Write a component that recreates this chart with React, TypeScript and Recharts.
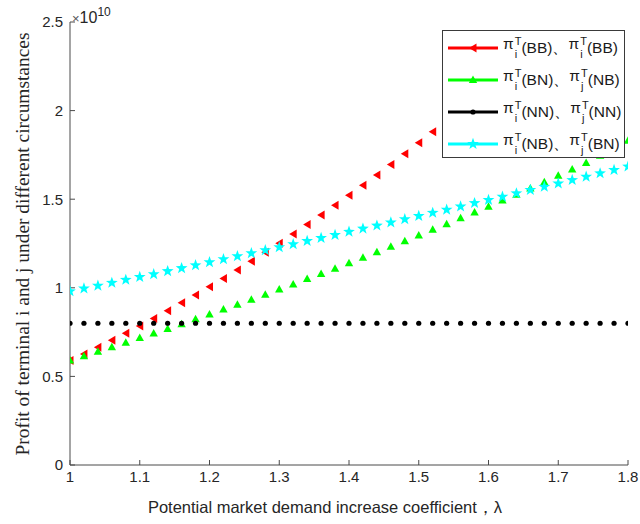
import { ScatterChart, Scatter, XAxis, YAxis } from 'recharts';

// lambda values, step 0.02
const LAMBDA = [
  1.0, 1.02, 1.04, 1.06, 1.08, 1.1, 1.12, 1.14, 1.16, 1.18,
  1.2, 1.22, 1.24, 1.26, 1.28, 1.3, 1.32, 1.34, 1.36, 1.38,
  1.4, 1.42, 1.44, 1.46, 1.48, 1.5, 1.52, 1.54, 1.56, 1.58,
  1.6, 1.62, 1.64, 1.66, 1.68, 1.7, 1.72, 1.74, 1.76, 1.78, 1.8,
];

// profits, in units of 1e10 (red series only while it stays under the legend)
const PROFIT_BB = [
  0.59, 0.627, 0.665, 0.704, 0.744, 0.785, 0.827, 0.87, 0.915, 0.96,
  1.006, 1.053, 1.101, 1.15, 1.2, 1.251, 1.303, 1.357, 1.411, 1.466,
  1.522, 1.579, 1.637, 1.696, 1.757, 1.818, 1.88, 1.943, 2.007, 2.073,
  2.139, 2.206, 2.274, 2.343, 2.414,
];
const PROFIT_BN_NB = [
  0.59, 0.614, 0.639, 0.665, 0.69, 0.716, 0.742, 0.768, 0.795, 0.822,
  0.849, 0.877, 0.905, 0.933, 0.961, 0.99, 1.019, 1.049, 1.078, 1.108,
  1.139, 1.169, 1.2, 1.231, 1.263, 1.295, 1.327, 1.359, 1.392, 1.425,
  1.458, 1.492, 1.525, 1.56, 1.595, 1.632, 1.668, 1.704, 1.745, 1.787, 1.83,
];
const PROFIT_NN = [
  0.8, 0.8, 0.8, 0.8, 0.8, 0.8, 0.8, 0.8, 0.8, 0.8,
  0.8, 0.8, 0.8, 0.8, 0.8, 0.8, 0.8, 0.8, 0.8, 0.8,
  0.8, 0.8, 0.8, 0.8, 0.8, 0.8, 0.8, 0.8, 0.8, 0.8,
  0.8, 0.8, 0.8, 0.8, 0.8, 0.8, 0.8, 0.8, 0.8, 0.8, 0.8,
];
const PROFIT_NB_BN = [
  0.98, 0.996, 1.012, 1.028, 1.045, 1.061, 1.077, 1.094, 1.111, 1.127,
  1.144, 1.161, 1.178, 1.195, 1.212, 1.229, 1.246, 1.264, 1.281, 1.298,
  1.316, 1.334, 1.351, 1.369, 1.387, 1.405, 1.423, 1.441, 1.459, 1.478,
  1.496, 1.514, 1.533, 1.552, 1.57, 1.589, 1.608, 1.627, 1.646, 1.665, 1.684,
];

const X_TICKS = [1, 1.1, 1.2, 1.3, 1.4, 1.5, 1.6, 1.7, 1.8];
const Y_TICKS = [0, 0.5, 1, 1.5, 2, 2.5];

const toPoints = (ys: number[]) => ys.map((y, i) => ({ x: LAMBDA[i], y }));

const SANS = '"Liberation Sans", Arial, sans-serif';
const AXIS = '#4a4a4a';

/* marker shapes */
const leftTri = (cx: number, cy: number, fill: string) => (
  <polygon points={`${cx - 4},${cy} ${cx + 3.5},${cy - 4.5} ${cx + 3.5},${cy + 4.5}`} fill={fill} />
);
const upTri = (cx: number, cy: number, fill: string) => (
  <polygon points={`${cx},${cy - 4.5} ${cx + 4.2},${cy + 3} ${cx - 4.2},${cy + 3}`} fill={fill} />
);
const dot = (cx: number, cy: number, fill: string) => <circle cx={cx} cy={cy} r={2.6} fill={fill} />;
const star = (cx: number, cy: number, fill: string) => {
  const pts: string[] = [];
  for (let k = 0; k < 10; k++) {
    const r = k % 2 === 0 ? 6.2 : 2.5;
    const a = -Math.PI / 2 + (k * Math.PI) / 5;
    pts.push(`${cx + r * Math.cos(a)},${cy + r * Math.sin(a)}`);
  }
  return <polygon points={pts.join(' ')} fill={fill} />;
};

const SERIES = [
  { key: 'bb', data: PROFIT_BB, color: '#ff0000', marker: leftTri, a: 'i', b: 'i', s1: 'BB', s2: 'BB' },
  { key: 'bn', data: PROFIT_BN_NB, color: '#00ff00', marker: upTri, a: 'i', b: 'j', s1: 'BN', s2: 'NB' },
  { key: 'nn', data: PROFIT_NN, color: '#000000', marker: dot, a: 'i', b: 'j', s1: 'NN', s2: 'NN' },
  { key: 'nb', data: PROFIT_NB_BN, color: '#00ffff', marker: star, a: 'i', b: 'j', s1: 'NB', s2: 'BN' },
];

const Pi = ({ sub }: { sub: string }) => (
  <span style={{ display: 'inline-flex', alignItems: 'baseline' }}>
    π
    <span style={{ display: 'inline-flex', flexDirection: 'column', fontSize: 11, lineHeight: '11px', marginLeft: 1, position: 'relative', top: 2 }}>
      <span style={{ position: 'relative', top: -6 }}>T</span>
      <span style={{ position: 'relative', top: -4 }}>{sub}</span>
    </span>
  </span>
);

export default function App() {
  return (
    <div style={{ position: 'absolute', left: 0, top: 0, width: 640, height: 524, background: '#fff' }}>
      <ScatterChart width={640} height={524} margin={{ top: 22, right: 12, bottom: 0, left: 0 }}>
        <XAxis
          type="number"
          dataKey="x"
          domain={[1, 1.8]}
          ticks={X_TICKS}
          tickFormatter={(v: number) => String(Number(v.toFixed(1)))}
          height={59}
          stroke={AXIS}
          tickSize={-5}
          tickMargin={11}
          tick={{ fill: '#262626', fontSize: 15, fontFamily: SANS }}
          allowDataOverflow
        />
        <YAxis
          type="number"
          dataKey="y"
          domain={[0, 2.5]}
          ticks={Y_TICKS}
          width={70}
          stroke={AXIS}
          tickSize={-5}
          tickMargin={12}
          tick={{ fill: '#262626', fontSize: 15, fontFamily: SANS }}
          allowDataOverflow
        />
        {SERIES.map(s => (
          <Scatter
            key={s.key}
            data={toPoints(s.data)}
            fill={s.color}
            isAnimationActive={false}
            shape={(p: any) => s.marker(p.cx, p.cy, s.color)}
          />
        ))}
      </ScatterChart>

      {/* exponent label */}
      <div style={{ position: 'absolute', left: 72, top: 6, fontFamily: SANS, fontSize: 16, color: '#262626', whiteSpace: 'nowrap' }}>
        <span style={{ fontSize: 13, color: '#555' }}>×</span>10<sup style={{ fontSize: 12, position: 'relative', top: -1 }}>10</sup>
      </div>

      {/* y label */}
      <div
        style={{
          position: 'absolute', left: 23, top: 244, transform: 'translate(-50%, -50%) rotate(-90deg)',
          fontFamily: '"Liberation Serif", "Times New Roman", serif', fontSize: 19.4, color: '#262626', whiteSpace: 'nowrap',
        }}
      >
        Profit of terminal i and j under different circumstances
      </div>

      {/* x label */}
      <div
        style={{
          position: 'absolute', left: 325, top: 497, transform: 'translateX(-50%)',
          fontFamily: SANS, fontSize: 16.5, color: '#262626', whiteSpace: 'nowrap',
        }}
      >
        Potential market demand increase coefficient，λ
      </div>

      {/* legend */}
      <div
        style={{
          position: 'absolute', left: 442, top: 30, width: 183, height: 128, background: '#fff',
          border: '1px solid #3a3a3a', fontFamily: SANS, fontSize: 15.5, color: '#1a1a1a', boxSizing: 'border-box',
        }}
      >
        {SERIES.map((s, i) => (
          <div key={s.key} style={{ position: 'absolute', left: 4, top: 4 + i * 32, height: 26, display: 'flex', alignItems: 'center', whiteSpace: 'nowrap' }}>
            <svg width={52} height={14} style={{ marginRight: 4 }}>
              <line x1={1} y1={7} x2={51} y2={7} stroke={s.color} strokeWidth={3} />
              {s.marker(26, 7, s.color)}
            </svg>
            <Pi sub={s.a} />({s.s1})、<Pi sub={s.b} />({s.s2})
          </div>
        ))}
      </div>
    </div>
  );
}
